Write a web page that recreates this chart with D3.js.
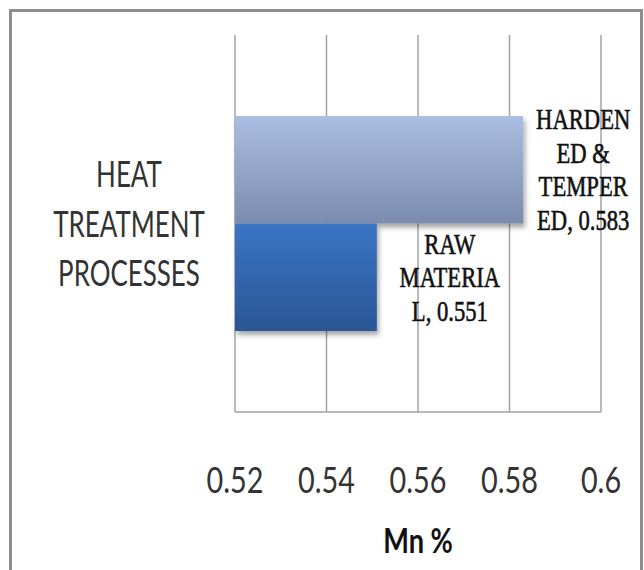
<!DOCTYPE html>
<html>
<head>
<meta charset="utf-8">
<script src="https://cdn.jsdelivr.net/npm/d3@7"></script>
<style>
  html, body { margin: 0; padding: 0; background: #fff; }
  svg { display: block; }
</style>
</head>
<body>
<svg id="chart" width="644" height="570"></svg>
<script>
// Mn content by heat treatment condition
const categories = ["HEAT TREATMENT PROCESSES"];
const categoryLines = ["HEAT", "TREATMENT", "PROCESSES"];
const seriesNames = ["HARDENED & TEMPERED", "RAW MATERIAL"];
const seriesValues = [0.583, 0.551];
// wrapped name pieces used in the data labels
const seriesLabelLines = [["HARDEN", "ED &", "TEMPER", "ED"], ["RAW", "MATERIA", "L"]];
const xTicks = [0.52, 0.54, 0.56, 0.58, 0.6];
const xTickLabels = ["0.52", "0.54", "0.56", "0.58", "0.6"];
const xTitle = "Mn %";

const svg = d3.select("#chart");
const defs = svg.append("defs");

// chart frame
svg.append("rect")
  .attr("x", 10.5).attr("y", 10.5)
  .attr("width", 631).attr("height", 600)
  .attr("fill", "#fff")
  .attr("stroke", "#8e8e8e").attr("stroke-width", 3);

const plot = { left: 235, right: 601, top: 35, bottom: 412 };

const x = d3.scaleLinear().domain([0.52, 0.6]).range([plot.left, plot.right]);
const y0 = d3.scaleBand().domain(categories).range([plot.top, plot.bottom])
  .paddingInner(0).paddingOuter(0.3767);
const y1 = d3.scaleBand().domain(seriesNames).range([0, y0.bandwidth()]);

// bar gradients
const fills = [["#aabee2", "#7a8bad"], ["#3b75c5", "#2a5695"]];
fills.forEach((c, i) => {
  const g = defs.append("linearGradient").attr("id", "grad" + i)
    .attr("x1", 0).attr("y1", 0).attr("x2", 0).attr("y2", 1);
  g.append("stop").attr("offset", "0%").attr("stop-color", c[0]);
  g.append("stop").attr("offset", "100%").attr("stop-color", c[1]);
});
const sh = defs.append("filter").attr("id", "shadow")
  .attr("x", "-10%").attr("y", "-10%").attr("width", "130%").attr("height", "130%");
sh.append("feDropShadow").attr("dx", 2).attr("dy", 4).attr("stdDeviation", 2.5)
  .attr("flood-color", "#000").attr("flood-opacity", 0.35);

// vertical gridlines
svg.append("g").selectAll("line").data(xTicks).join("line")
  .attr("x1", d => x(d)).attr("x2", d => x(d))
  .attr("y1", plot.top).attr("y2", plot.bottom)
  .attr("stroke", "#a3a3a3").attr("stroke-width", 1.5);

// bottom axis line
svg.append("line")
  .attr("x1", plot.left).attr("x2", plot.right)
  .attr("y1", plot.bottom).attr("y2", plot.bottom)
  .attr("stroke", "#a3a3a3").attr("stroke-width", 1.5);

// bars
const bars = svg.append("g");
seriesNames.forEach((s, i) => {
  bars.append("rect")
    .attr("x", x(0.52))
    .attr("y", y0(categories[0]) + y1(s))
    .attr("width", x(seriesValues[i]) - x(0.52))
    .attr("height", y1.bandwidth())
    .attr("fill", `url(#grad${i})`)
    .attr("filter", "url(#shadow)");
});

const sans = "Lato, 'Open Sans', sans-serif";

// category label (left axis)
const catG = svg.append("g")
  .attr("transform", `translate(129,${y0(categories[0]) + y0.bandwidth() / 2}) scale(0.72,1)`);
categoryLines.forEach((t, i) => {
  catG.append("text")
    .attr("x", 0).attr("y", (i - 1) * 50 + 13)
    .attr("text-anchor", "middle")
    .attr("font-family", sans).attr("font-weight", 400)
    .attr("font-size", 36).attr("fill", "#333")
    .text(t);
});

// x tick labels
xTicks.forEach((v, i) => {
  svg.append("text")
    .attr("transform", `translate(${x(v)},493) scale(0.8,1)`)
    .attr("text-anchor", "middle")
    .attr("font-family", sans).attr("font-weight", 400)
    .attr("font-size", 36).attr("fill", "#333")
    .text(xTickLabels[i]);
});

// x axis title
svg.append("text")
  .attr("transform", `translate(${(plot.left + plot.right) / 2},553) scale(0.8,1)`)
  .attr("text-anchor", "middle")
  .attr("font-family", sans)
  .attr("font-size", 34).attr("font-weight", 700).attr("fill", "#111")
  .text(xTitle);

// data labels beside bar ends
const labelOffsets = [60, 73];
seriesNames.forEach((s, i) => {
  const lines = seriesLabelLines[i].slice();
  lines[lines.length - 1] += ", " + d3.format(".3f")(seriesValues[i]);
  const cy = y0(categories[0]) + y1(s) + y1.bandwidth() / 2;
  const g = svg.append("g")
    .attr("transform", `translate(${x(seriesValues[i]) + labelOffsets[i]},${cy}) scale(0.78,1)`);
  const n = lines.length;
  lines.forEach((t, j) => {
    g.append("text")
      .attr("x", 0).attr("y", (j - (n - 1) / 2) * 33.5 + 10)
      .attr("text-anchor", "middle")
      .attr("font-family", "'Liberation Serif', 'DejaVu Serif', serif")
      .attr("font-size", 29).attr("fill", "#111")
      .attr("stroke", "#111").attr("stroke-width", 0.6)
      .text(t);
  });
});
</script>
</body>
</html>
